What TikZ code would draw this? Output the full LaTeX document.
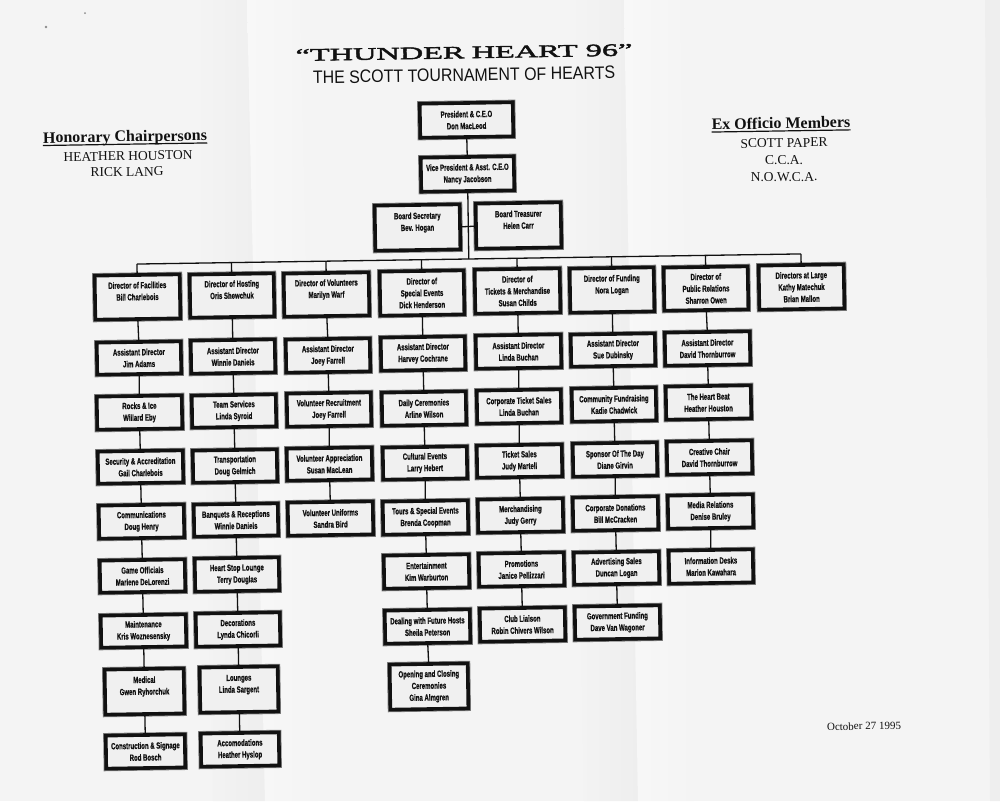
\documentclass[tikz,border=0pt]{standalone}
\usepackage{fontspec}
\usetikzlibrary{calc}
\setmainfont{Liberation Serif}
\newfontfamily\boxfont[FakeStretch=0.67,FakeBold=0.8]{Liberation Sans}
\newfontfamily\subfont[FakeStretch=0.885]{Liberation Sans}
\newfontfamily\titlefont[FakeStretch=1.85,FakeBold=2.6]{Liberation Serif}
\definecolor{paper}{HTML}{F4F4F4}
\definecolor{fold}{HTML}{EEEEEE}
\definecolor{light}{HTML}{F8F8F8}
\definecolor{ink}{HTML}{111111}
\definecolor{boxfill}{HTML}{F0F0F0}
\tikzset{
  x=1pt,y=-1pt,
  orgbox/.style={draw=ink,line width=3.6pt,fill=boxfill,inner sep=0pt,rotate=0.9,align=center,
    font=\boxfont\bfseries\fontsize{9}{11.8}\selectfont,text=ink,
    preaction={draw=black!50,line width=5.2pt}},
  link/.style={draw=ink,line width=1.3pt},
  lbl/.style={inner sep=0pt,rotate=0.9,align=center,text=ink},
  headrule/.style={draw=ink,line width=1.2pt},
}
% name, x1, x2, y1, y2, text
\newcommand{\bx}[6]{\node[orgbox,minimum width=#3pt-#2pt-4pt,minimum height=#5pt-#4pt-4pt] (#1) at ({(#2+#3)/2},{(#4+#5)/2}) {#6};}
\begin{document}
\begin{tikzpicture}
\useasboundingbox (0,0) rectangle (1000,801);
\fill[paper] (0,0) rectangle (1000,801);
% paper folds
\shade[left color=paper,right color=fold] (195,0) -- (247,0) -- (265,801) -- (213,801) -- cycle;
\shade[left color=light,right color=paper] (247,0) -- (300,0) -- (318,801) -- (265,801) -- cycle;
\shade[left color=paper,right color=fold] (570,0) -- (624,0) -- (638,801) -- (584,801) -- cycle;
\shade[left color=light,right color=paper] (624,0) -- (680,0) -- (694,801) -- (638,801) -- cycle;
\fill[fold] (985,0) -- (1000,0) -- (1000,801) -- (990,801) -- cycle;
\fill[black!45] (46,27) circle (1.3);
\fill[black!45] (85,13) circle (1);
% header texts
\node[lbl,font=\titlefont\fontsize{17.5}{18}\selectfont] (title) at (464,52.5) {“THUNDER\hspace{-1pt} HEART 96”};
\node[lbl,font=\subfont\fontsize{18}{18}\selectfont] (subtitle) at (464,75) {THE SCOTT TOURNAMENT OF HEARTS};
\node[lbl,font=\bfseries\fontsize{16}{18}\selectfont] (hon) at (125,138) {Honorary Chairpersons};
\node[lbl,font=\fontsize{13.5}{16}\selectfont] (hon1) at (128,156) {HEATHER HOUSTON};
\node[lbl,font=\fontsize{13.5}{16}\selectfont] (hon2) at (127,172) {RICK LANG};
\node[lbl,font=\bfseries\fontsize{16}{18}\selectfont] (exo) at (781,123) {Ex Officio Members};
\node[lbl,font=\fontsize{13.5}{16}\selectfont] (ex1) at (784,143) {SCOTT PAPER};
\node[lbl,font=\fontsize{13.5}{16}\selectfont] (ex2) at (784,160) {C.C.A.};
\node[lbl,font=\fontsize{13.5}{16}\selectfont] (ex3) at (784,177) {N.O.W.C.A.};
\node[lbl,font=\fontsize{11}{13}\selectfont] (date) at (864,726) {October 27 1995};
\draw[headrule] ($(hon.base west)+(0,2.4)$) -- ($(hon.base east)+(0,2.4)$);
\draw[headrule] ($(exo.base west)+(0,2.4)$) -- ($(exo.base east)+(0,2.4)$);
% boxes
\bx{pres}{418}{515}{101}{139}{President \& C.E.O\\Don MacLeod}
\bx{vp}{419}{516}{155}{193}{Vice President \& Asst. C.E.O\\Nancy Jacobson}
\bx{sec}{373}{462}{203}{252}{Board Secretary\\Bev. Hogan\\ }
\bx{tre}{474}{563}{201}{250}{Board Treasurer\\Helen Carr\\ }
\bx{a1}{93}{182}{273}{321}{Director of Facilities\\Bill Charlebois\\ }
\bx{a2}{95}{183}{340}{376}{Assistant Director\\Jim Adams}
\bx{a3}{95}{184}{394}{431}{Rocks \& Ice\\Willard Eby}
\bx{a4}{96}{185}{449}{485}{Security \& Accreditation\\Gail Charlebois}
\bx{a5}{97}{186}{503}{540}{Communications\\Doug Henry}
\bx{a6}{98}{187}{558}{594}{Game Officials\\Marlene DeLorenzi}
\bx{a7}{99}{188}{613}{649}{Maintenance\\Kris Woznesensky}
\bx{a8}{103}{186}{667}{716}{Medical\\Gwen Ryhorchuk\\ }
\bx{a9}{104}{187}{733}{770}{Construction \& Signage\\Rod Bosch}
\bx{b1}{188}{276}{272}{319}{Director of Hosting\\Oris Shewchuk\\ }
\bx{b2}{189}{277}{338}{375}{Assistant Director\\Winnie Daniels}
\bx{b3}{190}{278}{393}{429}{Team Services\\Linda Syroid}
\bx{b4}{191}{279}{448}{484}{Transportation\\Doug Gelmich}
\bx{b5}{192}{280}{502}{538}{Banquets \& Receptions\\Winnie Daniels}
\bx{b6}{193}{281}{556}{593}{Heart Stop Lounge\\Terry Douglas}
\bx{b7}{194}{282}{611}{648}{Decorations\\Lynda Chicorli}
\bx{b8}{198}{280}{665}{714}{Lounges\\Linda Sargent\\ }
\bx{b9}{199}{281}{731}{768}{Accomodations\\Heather Hyslop}
\bx{c1}{282}{371}{271}{318}{Director of Volunteers\\Marilyn Warf\\ }
\bx{c2}{284}{372}{337}{374}{Assistant Director\\Joey Farrell}
\bx{c3}{285}{373}{391}{428}{Volunteer Recruitment\\Joey Farrell}
\bx{c4}{285}{374}{446}{482}{Volunteer Appreciation\\Susan MacLean}
\bx{c5}{286}{375}{500}{537}{Volunteer Uniforms\\Sandra Bird}
\bx{d1}{378}{466}{269}{317}{Director of\\Special Events\\Dick Henderson}
\bx{d2}{379}{467}{335}{372}{Assistant Director\\Harvey Cochrane}
\bx{d3}{380}{468}{390}{427}{Daily Ceremonies\\Arline Wilson}
\bx{d4}{381}{469}{445}{481}{Cultural Events\\Larry Hebert}
\bx{d5}{381}{470}{499}{536}{Tours \& Special Events\\Brenda Coopman}
\bx{d6}{382}{471}{553}{590}{Entertainment\\Kim Warburton}
\bx{d7}{383}{472}{608}{645}{Dealing with Future Hosts\\Sheila Peterson}
\bx{d8}{388}{470}{662}{711}{Opening and Closing\\Ceremonies\\Gina Almgren}
\bx{e1}{473}{562}{267}{315}{Director of\\Tickets \& Merchandise\\Susan Childs}
\bx{e2}{474}{563}{333}{370}{Assistant Director\\Linda Buchan}
\bx{e3}{475}{563}{388}{425}{Corporate Ticket Sales\\Linda Buchan}
\bx{e4}{475}{564}{443}{479}{Ticket Sales\\Judy Martell}
\bx{e5}{476}{565}{497}{534}{Merchandising\\Judy Gerry}
\bx{e6}{477}{566}{551}{588}{Promotions\\Janice Pellizzari}
\bx{e7}{478}{567}{606}{643}{Club Liaison\\Robin Chivers Wilson}
\bx{f1}{568}{656}{266}{314}{Director of Funding\\Nora Logan\\ }
\bx{f2}{569}{657}{332}{368}{Assistant Director\\Sue Dubinsky}
\bx{f3}{570}{658}{386}{423}{Community Fundraising\\Kadie Chadwick}
\bx{f4}{571}{659}{441}{478}{Sponsor Of The Day\\Diane Girvin}
\bx{f5}{571}{660}{495}{532}{Corporate Donations\\Bill McCracken}
\bx{f6}{572}{661}{550}{586}{Advertising Sales\\Duncan Logan}
\bx{f7}{573}{662}{604}{641}{Government Funding\\Dave Van Wagoner}
\bx{g1}{662}{750}{265}{312}{Director of\\Public Relations\\Sharron Owen}
\bx{g2}{663}{752}{330}{367}{Assistant Director\\David Thornburrow}
\bx{g3}{664}{753}{384}{421}{The Heart Beat\\Heather Houston}
\bx{g4}{665}{754}{439}{476}{Creative Chair\\David Thornburrow}
\bx{g5}{666}{755}{493}{530}{Media Relations\\Denise Bruley}
\bx{g6}{667}{755}{548}{585}{Information Desks\\Marion Kawahara}
\bx{h1}{757}{846}{263}{311}{Directors at Large\\Kathy Matechuk\\Brian Mallon}
% bus
\coordinate (busA) at (100,264.6);
\coordinate (busB) at (900,252.4);
\coordinate (busL) at ($(busA)!(a1.north)!(busB)$);
\coordinate (busR) at ($(busA)!(h1.north)!(busB)$);
\coordinate (busM) at ($(busA)!(vp.south)!(busB)$);
\draw[link] (pres.south) -- (vp.north);
\draw[link] (vp.south) -- (busM);
\draw[link] (sec.east) -- (tre.west);
\draw[link] (busL) -- (busR);
\foreach \n in {a1,b1,c1,d1,e1,f1,g1,h1}
  \draw[link] (\n.north) -- ($(busA)!(\n.north)!(busB)$);
\foreach \u/\v in {a1/a2,a2/a3,a3/a4,a4/a5,a5/a6,a6/a7,a7/a8,a8/a9,
  b1/b2,b2/b3,b3/b4,b4/b5,b5/b6,b6/b7,b7/b8,b8/b9,
  c1/c2,c2/c3,c3/c4,c4/c5,
  d1/d2,d2/d3,d3/d4,d4/d5,d5/d6,d6/d7,d7/d8,
  e1/e2,e2/e3,e3/e4,e4/e5,e5/e6,e6/e7,
  f1/f2,f2/f3,f3/f4,f4/f5,f5/f6,f6/f7,
  g1/g2,g2/g3,g3/g4,g4/g5,g5/g6}
  \draw[link] (\u.south) -- (\v.north);
\end{tikzpicture}
\end{document}
